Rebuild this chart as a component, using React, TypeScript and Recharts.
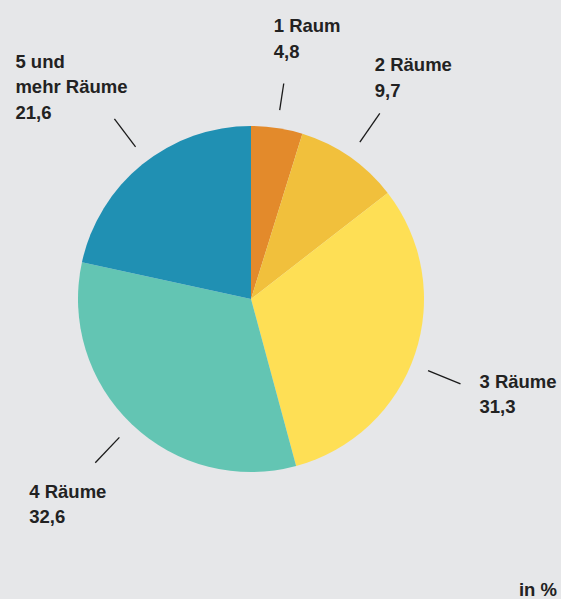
import React from 'react';
import { PieChart, Pie, Cell } from 'recharts';

const categories = ['1 Raum', '2 Räume', '3 Räume', '4 Räume', '5 und mehr Räume'];
const categoryLines = [['1 Raum'], ['2 Räume'], ['3 Räume'], ['4 Räume'], ['5 und', 'mehr Räume']];
const values = [4.8, 9.7, 31.3, 32.6, 21.6];
const colors = ['#E38A2B', '#F1C03C', '#FEDF55', '#63C5B3', '#2090B3'];
const unitLabel = 'in %';

const data = categories.map((name, i) => ({ name, value: values[i] }));

// label layout: line length beyond pie, angle tweak (deg), text offset from line end
const labelLayout = [
  { len: 45, dAng: 0, dx: -10, dy: -51 },
  { len: 53, dAng: 0, dx: -5, dy: -42 },
  { len: 53, dAng: -3.5, dx: 19, dy: 4 },
  { len: 53, dAng: 0, dx: -66, dy: 35 },
  { len: 53, dAng: -1.7, dx: -99, dy: -51 },
];

const FONT = '"Liberation Sans", Arial, Helvetica, sans-serif';
const RAD = Math.PI / 180;

const renderLabel = (props: any) => {
  const { cx, cy, midAngle, outerRadius, index } = props;
  const lay = labelLayout[index];
  const ang = (midAngle + lay.dAng) * RAD;
  const r1 = outerRadius + 18;
  const r2 = outerRadius + lay.len;
  const x1 = cx + r1 * Math.cos(-ang);
  const y1 = cy + r1 * Math.sin(-ang);
  const x2 = cx + r2 * Math.cos(-ang);
  const y2 = cy + r2 * Math.sin(-ang);
  const tx = x2 + lay.dx;
  const ty = y2 + lay.dy;
  const lines = [...categoryLines[index], values[index].toFixed(1).replace('.', ',')];
  return (
    <g key={`lbl-${index}`}>
      <line x1={x1} y1={y1} x2={x2} y2={y2} stroke="#1a1a1a" strokeWidth={1.3} />
      <text x={tx} y={ty} fill="#222" fontFamily={FONT} fontSize={18.5} fontWeight="bold" textAnchor="start">
        {lines.map((t, k) => (
          <tspan key={k} x={tx} dy={k === 0 ? 0 : 25.5}>
            {t}
          </tspan>
        ))}
      </text>
    </g>
  );
};

export default function App() {
  return (
    <div
      style={{
        position: 'absolute',
        left: 0,
        top: 0,
        width: 561,
        height: 599,
        background: '#E6E7E9',
        overflow: 'hidden',
      }}
    >
      <PieChart width={561} height={599} margin={{ top: 0, right: 0, bottom: 0, left: 0 }}>
        <Pie
          data={data}
          dataKey="value"
          nameKey="name"
          cx={251}
          cy={299}
          outerRadius={173}
          startAngle={90}
          endAngle={-270}
          stroke="none"
          label={renderLabel}
          labelLine={false}
          isAnimationActive={false}
        >
          {data.map((d, i) => (
            <Cell key={d.name} fill={colors[i]} />
          ))}
        </Pie>
      </PieChart>
      <div
        style={{
          position: 'absolute',
          right: 4,
          top: 581,
          fontFamily: FONT,
          fontSize: 18.5,
          lineHeight: '18px',
          fontWeight: 'bold',
          color: '#222',
        }}
      >
        {unitLabel}
      </div>
    </div>
  );
}
